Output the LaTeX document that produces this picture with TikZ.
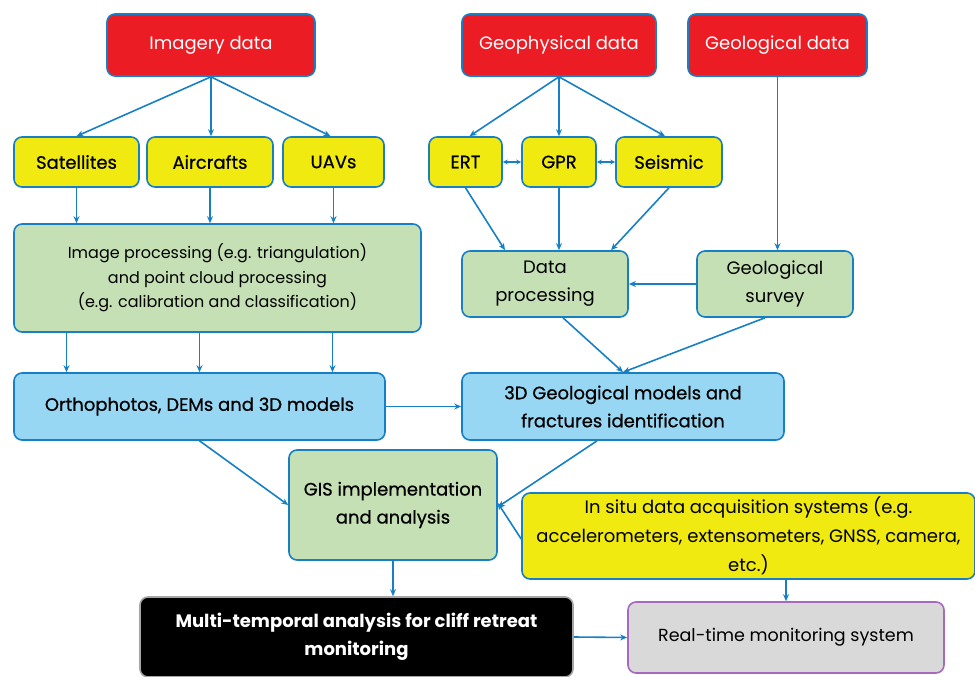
\documentclass[tikz,border=0pt]{standalone}
\usepackage{fontspec}
\setmainfont{Poppins}
\newfontfamily\medfont{Poppins}[FakeBold=0.6]
\usetikzlibrary{arrows.meta}

\definecolor{lineblue}{RGB}{23,128,196}
\definecolor{srcred}{RGB}{236,28,36}
\definecolor{toolyellow}{RGB}{240,234,16}
\definecolor{procgreen}{RGB}{197,224,180}
\definecolor{prodblue}{RGB}{151,215,243}
\definecolor{rtgray}{RGB}{217,217,217}
\definecolor{rtpurple}{RGB}{165,105,190}

\tikzset{
  box/.style={rectangle, rounded corners=8pt, draw=lineblue, line width=1.6pt, align=center, inner sep=2pt},
  srcbox/.style={box, fill=srcred, text=white, font=\fontsize{18}{22}\selectfont},
  toolbox/.style={box, fill=toolyellow, font=\medfont\fontsize{18}{22}\selectfont},
  procbox/.style={box, fill=procgreen, font=\fontsize{18}{28}\selectfont},
  prodbox/.style={box, fill=prodblue, font=\medfont\fontsize{18}{28}\selectfont},
  link/.style={draw=lineblue, line width=1.6pt, -{Stealth[length=7pt,width=6pt]}},
  twoway/.style={draw=lineblue, line width=1.6pt, {Stealth[length=5pt,width=5pt]}-{Stealth[length=5pt,width=5pt]}},
}

\begin{document}
\begin{tikzpicture}[x=1pt, y=-1pt]
    \useasboundingbox (0,0) rectangle (975,677);

    % data sources
    \node [srcbox, minimum width=208, minimum height=62] (img) at (211,45) {Imagery data};
    \node [srcbox, minimum width=194, minimum height=62] (geoph) at (559,45) {Geophysical data};
    \node [srcbox, minimum width=179, minimum height=62] (geol) at (777.5,45) {Geological data};

    % platforms and methods
    \node [toolbox, minimum width=125, minimum height=50] (sat) at (76.5,162) {Satellites};
    \node [toolbox, minimum width=126, minimum height=50] (air) at (210,162) {Aircrafts};
    \node [toolbox, minimum width=101, minimum height=50] (uav) at (333.5,162) {UAVs};
    \node [toolbox, minimum width=73, minimum height=50] (ert) at (465.5,162) {ERT};
    \node [toolbox, minimum width=74, minimum height=50] (gpr) at (559,162) {GPR};
    \node [toolbox, minimum width=106, minimum height=50] (seis) at (669,162) {Seismic};

    % processing
    \node [procbox, minimum width=407, minimum height=108, font=\fontsize{16}{24.5}\selectfont] (imgproc) at (217.5,278)
        {Image processing (e.g. triangulation)\\and point cloud processing\\(e.g. calibration and classification)};
    \node [procbox, minimum width=166, minimum height=66] (dp) at (545,284) {Data\\processing};
    \node [procbox, minimum width=156, minimum height=66] (gs) at (775,284) {Geological\\survey};

    % products
    \node [prodbox, minimum width=371, minimum height=67] (ortho) at (199.5,406.5) {Orthophotos, DEMs and 3D models};
    \node [prodbox, minimum width=322, minimum height=67] (geo3d) at (623,406.5) {3D Geological models and\\fractures identification};

    % analysis
    \node [procbox, minimum width=208, minimum height=110, font=\medfont\fontsize{18}{28}\selectfont] (gis) at (393,505) {GIS implementation\\and analysis};
    \node [toolbox, minimum width=453, minimum height=86, font=\fontsize{18}{29}\selectfont] (insitu) at (748.5,536)
        {In situ data acquisition systems (e.g.\\accelerometers, extensometers, GNSS, camera,\\etc.)};
    \node [box, draw=gray!70, fill=black, text=white, minimum width=433, minimum height=80, font=\bfseries\fontsize{18}{28}\selectfont] (multi) at (356.5,637)
        {Multi-temporal analysis for cliff retreat\\monitoring};
    \node [box, draw=rtpurple, fill=rtgray, minimum width=316, minimum height=71, font=\fontsize{17.5}{22}\selectfont] (rt) at (786,637.5) {Real-time monitoring system};

    % imagery branch
    \draw [link] (img.south) -- (sat.north);
    \draw [link] (img.south) -- (img.south |- air.north);
    \draw [link] (img.south) -- ([xshift=-3pt]uav.north);
    \draw [link] (sat.south) -- (sat.south |- imgproc.north);
    \draw [link] (air.south) -- (air.south |- imgproc.north);
    \draw [link] (uav.south) -- (uav.south |- imgproc.north);
    \draw [link] ([xshift=-133pt]imgproc.south -| ortho.north) -- ([xshift=-133pt]ortho.north);
    \draw [link] (imgproc.south -| ortho.north) -- (ortho.north);
    \draw [link] ([xshift=133pt]imgproc.south -| ortho.north) -- ([xshift=133pt]ortho.north);

    % geophysical branch
    \draw [link] (geoph.south) -- ([xshift=4pt]ert.north);
    \draw [link] (geoph.south) -- (gpr.north);
    \draw [link] (geoph.south) -- ([xshift=-4pt]seis.north);
    \draw [twoway] (ert.east) -- (gpr.west);
    \draw [twoway] (gpr.east) -- (seis.west);
    \draw [link] (ert.south) -- ([xshift=-40pt]dp.north);
    \draw [link] (gpr.south) -- (gpr.south |- dp.north);
    \draw [link] (seis.south) -- ([xshift=66pt]dp.north);

    % geological branch
    \draw [link] (geol.south) -- (geol.south |- gs.north);
    \draw [link] (gs.west) -- (dp.east);
    \draw [link] ([xshift=18pt]dp.south) -- (geo3d.north);
    \draw [link] ([xshift=-10pt]gs.south) -- (geo3d.north);

    % towards GIS
    \draw [link] (ortho.east) -- (geo3d.west);
    \draw [link] (ortho.south) -- (gis.west);
    \draw [link] ([xshift=-26pt]geo3d.south) -- ([yshift=-2pt]gis.east);
    \draw [link] ([yshift=-3pt]insitu.west) -- ([yshift=2pt]gis.east);
    \draw [link] (gis.south) -- (gis.south |- multi.north);
    \draw [link] (insitu.south -| rt.north) -- (rt.north);
    \draw [link] (multi.east) -- (rt.west);
\end{tikzpicture}
\end{document}
